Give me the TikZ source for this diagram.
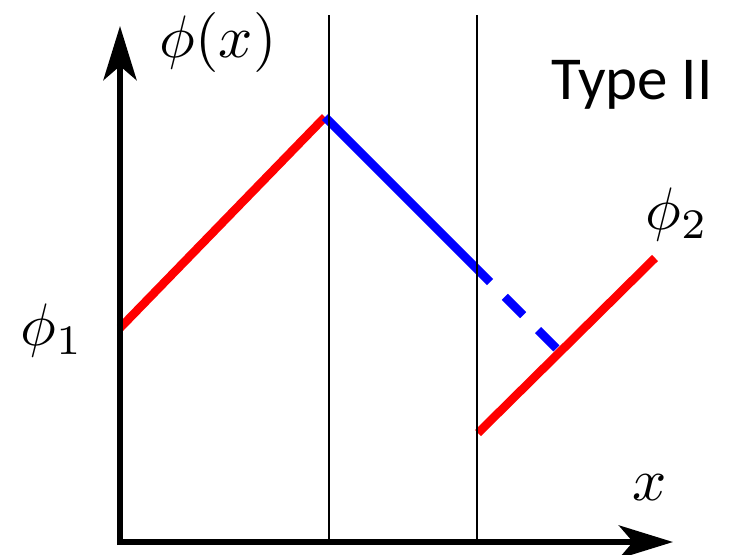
\documentclass[tikz,border=0pt]{standalone}
\usepackage{fontspec}
\usetikzlibrary{arrows.meta}
\newfontfamily\typefont{Carlito}

\begin{document}
\begin{tikzpicture}[x=1pt,y=-1pt]

	% ============================================================
	% STYLES
	% ============================================================
	\tikzset{
		axis/.style={line width=6.5pt,-{Stealth[length=54pt,width=33pt,inset=14pt]}},
		divider/.style={line width=1.8pt,draw=black},
		redSeg/.style={line width=8.5pt,draw=red},
		blueSeg/.style={line width=8.5pt,draw=blue},
		mathLbl/.style={scale=6,inner sep=0pt},
		typeLbl/.style={font=\typefont\fontsize{61}{70}\selectfont,inner sep=0pt}
	}

	\useasboundingbox (0,0) rectangle (749,554);

	% ============================================================
	% POINTS
	% ============================================================
	\coordinate (origin) at (120,545);
	\coordinate (xstart) at (117,542);
	\coordinate (ytip)   at (120,26);
	\coordinate (xtip)   at (673,542);
	\coordinate (leftTop) at (329,15);
	\coordinate (leftBot) at (329,545);
	\coordinate (rightTop) at (477,15);
	\coordinate (rightBot) at (477,545);
	\coordinate (phiOne) at (120,328);
	\coordinate (peak)   at (325,117);
	\coordinate (blueEnd) at (490,282);
	\coordinate (dashEnd) at (558,350);
	\coordinate (lowStart) at (478,433);
	\coordinate (phiTwo) at (655,258);

	% ============================================================
	% CURVES
	% ============================================================
	\draw[redSeg] (phiOne) -- (peak);
	\draw[blueSeg] (peak) -- (blueEnd);
	\draw[blueSeg, dash pattern=on 26pt off 21pt, dash phase=26pt] (blueEnd) -- (dashEnd);
	\draw[redSeg] (lowStart) -- (phiTwo);

	% ============================================================
	% DIVIDERS AND AXES
	% ============================================================
	\draw[divider] (leftTop) -- (leftBot);
	\draw[divider] (rightTop) -- (rightBot);
	\draw[axis] (origin) -- (ytip);
	\draw[axis] (xstart) -- (xtip);

	% ============================================================
	% LABELS
	% ============================================================
	\node[mathLbl] (ylabel) at (218,42)  {$\phi(x)$};
	\node[mathLbl] (xlabel) at (650,488) {$x$};
	\node[mathLbl] (lblOne) at (52,330)  {$\phi_1$};
	\node[mathLbl] (lblTwo) at (677,214) {$\phi_2$};
	\node[typeLbl] (type)   at (632,85)  {Type II};

\end{tikzpicture}
\end{document}
